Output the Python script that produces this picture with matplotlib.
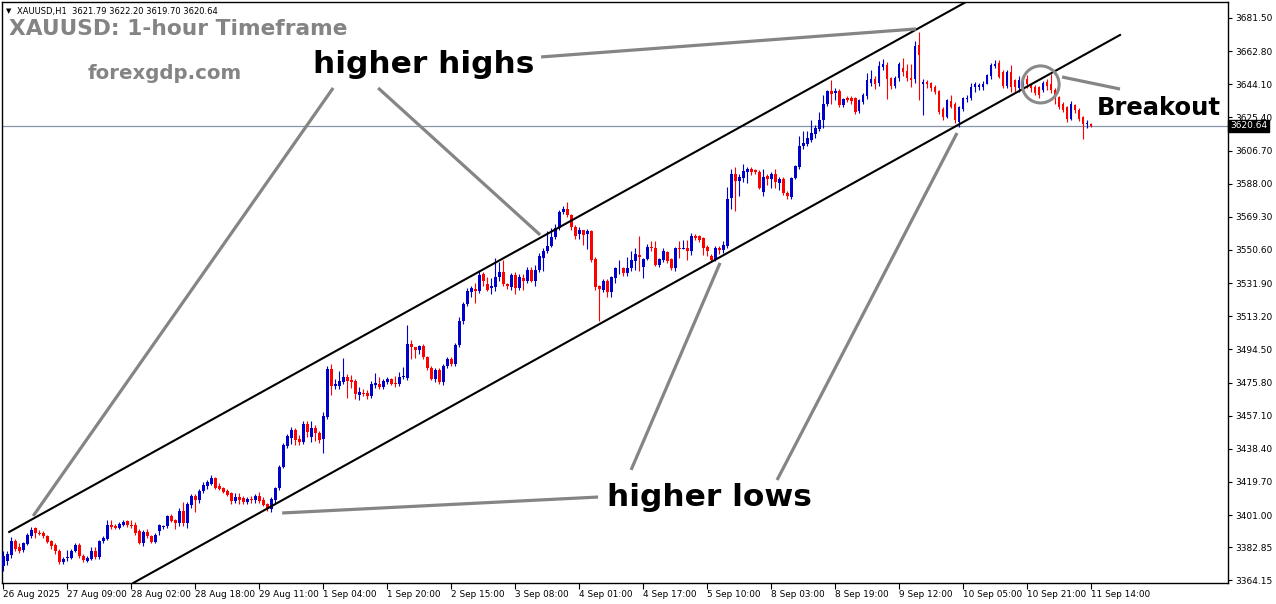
import numpy as np
import matplotlib.pyplot as plt
import matplotlib.transforms as mtransforms
from matplotlib.patches import Ellipse

# XAUUSD H1 candles (one bar per hour)
opens = [
    3372.1, 3374.9, 3378.3, 3386.2, 3382.8, 3381.5, 3384.7, 3389.1, 3393.8, 3391.0,
    3390.9, 3389.0, 3386.2, 3384.4, 3381.0, 3374.5, 3376.8, 3376.8, 3380.6, 3384.4,
    3378.1, 3375.3, 3376.4, 3381.0, 3377.2, 3386.2, 3387.7, 3395.3, 3394.7, 3393.8,
    3395.7, 3397.9, 3395.7, 3395.7, 3392.2, 3385.3, 3391.5, 3389.0, 3386.0, 3391.8,
    3394.1, 3394.6, 3400.3, 3398.4, 3396.5, 3403.5, 3396.5, 3406.5, 3411.6, 3409.7,
    3414.5, 3417.3, 3418.8, 3422.0, 3417.7, 3416.3, 3414.5, 3413.5, 3408.8, 3411.1,
    3410.7, 3408.4, 3409.7, 3409.4, 3411.6, 3409.7, 3407.3, 3404.7, 3409.7, 3416.3,
    3428.2, 3440.0, 3444.7, 3448.8, 3443.7, 3442.4, 3452.2, 3445.0, 3450.3, 3447.5,
    3443.7, 3456.3, 3483.3, 3473.9, 3473.9, 3476.1, 3479.0, 3477.3, 3476.7, 3468.8,
    3470.1, 3470.1, 3468.2, 3474.5, 3475.2, 3473.3, 3476.3, 3477.6, 3475.8, 3475.2,
    3479.0, 3478.6, 3497.8, 3495.6, 3494.1, 3496.5, 3490.0, 3484.0, 3478.0, 3483.0,
    3476.0, 3485.0, 3489.0, 3486.0, 3497.0, 3510.6, 3520.1, 3527.0, 3528.6, 3527.6,
    3537.1, 3531.4, 3529.1, 3529.5, 3535.1, 3538.4, 3531.4, 3529.5, 3536.7, 3528.9,
    3534.8, 3532.9, 3539.5, 3533.3, 3539.5, 3546.3, 3549.9, 3553.1, 3557.8, 3563.0,
    3572.0, 3573.8, 3570.1, 3563.5, 3559.7, 3561.6, 3559.7, 3561.2, 3545.5, 3530.4,
    3528.0, 3533.3, 3526.7, 3534.8, 3540.2, 3540.4, 3537.6, 3540.4, 3544.2, 3548.0,
    3541.2, 3545.5, 3552.5, 3551.8, 3542.3, 3545.2, 3549.3, 3545.5, 3540.4, 3551.8,
    3551.4, 3551.8, 3549.9, 3558.2, 3558.2, 3557.4, 3552.1, 3547.4, 3545.2, 3551.7,
    3550.8, 3552.7, 3580.1, 3593.6, 3589.5, 3591.2, 3594.5, 3596.4, 3595.5, 3594.5,
    3583.2, 3592.3, 3590.4, 3593.6, 3588.5, 3590.4, 3582.9, 3580.4, 3591.4, 3597.4,
    3609.1, 3610.6, 3612.9, 3616.3, 3619.1, 3623.8, 3632.8, 3640.2, 3638.9, 3640.4,
    3632.3, 3636.6, 3636.6, 3636.1, 3629.1, 3634.2, 3637.4, 3644.9, 3646.8, 3644.9,
    3653.9, 3654.9, 3647.4, 3643.2, 3647.9, 3653.4, 3651.7, 3647.4, 3646.8, 3666.2,
    3644.5, 3645.5, 3644.9, 3642.7, 3640.4, 3630.4, 3625.7, 3634.7, 3633.2, 3622.9,
    3630.4, 3635.5, 3636.1, 3642.3, 3642.7, 3642.3, 3644.5, 3648.5, 3654.5, 3655.9,
    3651.1, 3643.0, 3651.1, 3646.4, 3641.7, 3641.7, 3646.8, 3644.5, 3642.7, 3642.3,
    3641.1, 3645.1, 3644.5, 3641.1, 3637.0, 3633.2, 3631.3, 3624.7, 3632.3, 3629.8,
    3625.7, 3621.5, 3621.79,
]
highs = [
    3380.6, 3381.0, 3388.5, 3387.5, 3385.0, 3386.0, 3391.0, 3394.5, 3394.5, 3392.5,
    3392.0, 3390.0, 3387.0, 3385.0, 3382.0, 3377.5, 3381.5, 3382.0, 3385.0, 3385.0,
    3379.0, 3378.0, 3383.0, 3383.0, 3387.0, 3389.0, 3398.5, 3398.0, 3396.0, 3397.0,
    3398.5, 3398.5, 3398.5, 3397.0, 3393.0, 3392.5, 3393.0, 3390.0, 3391.0, 3396.0,
    3395.6, 3401.0, 3401.5, 3399.0, 3405.0, 3408.4, 3408.5, 3413.0, 3413.0, 3416.0,
    3419.5, 3421.0, 3423.5, 3422.5, 3419.0, 3417.0, 3415.5, 3414.0, 3413.5, 3413.5,
    3412.0, 3411.0, 3412.0, 3413.0, 3414.0, 3411.0, 3408.0, 3411.0, 3417.0, 3429.5,
    3441.5, 3447.0, 3450.5, 3450.0, 3446.0, 3454.0, 3454.0, 3454.0, 3452.0, 3448.5,
    3459.0, 3485.0, 3486.0, 3478.0, 3482.4, 3489.6, 3480.5, 3480.0, 3478.0, 3473.5,
    3472.0, 3471.5, 3476.7, 3481.3, 3479.0, 3478.0, 3479.0, 3478.5, 3479.5, 3482.0,
    3484.5, 3508.4, 3500.0, 3496.0, 3497.0, 3497.5, 3491.0, 3485.0, 3484.0, 3484.0,
    3486.0, 3490.0, 3490.0, 3498.0, 3513.0, 3521.0, 3529.0, 3530.5, 3532.0, 3539.5,
    3538.0, 3535.5, 3535.0, 3546.0, 3544.0, 3545.0, 3532.0, 3537.5, 3538.0, 3537.0,
    3537.0, 3541.0, 3541.0, 3542.0, 3549.0, 3551.5, 3561.5, 3563.0, 3565.0, 3573.0,
    3575.6, 3577.4, 3571.0, 3564.5, 3563.5, 3562.0, 3562.5, 3562.0, 3546.5, 3531.0,
    3534.0, 3534.0, 3536.0, 3541.0, 3545.0, 3541.0, 3546.5, 3550.0, 3551.5, 3558.2,
    3546.0, 3554.0, 3555.5, 3555.5, 3546.0, 3551.5, 3550.0, 3546.0, 3552.5, 3555.5,
    3556.0, 3556.0, 3560.0, 3559.5, 3559.0, 3558.0, 3553.5, 3548.5, 3553.0, 3553.0,
    3555.5, 3586.4, 3596.5, 3597.5, 3593.7, 3599.2, 3597.5, 3597.5, 3596.5, 3595.5,
    3596.5, 3593.5, 3594.5, 3596.5, 3592.0, 3591.5, 3584.0, 3592.0, 3598.5, 3614.8,
    3617.5, 3617.5, 3623.8, 3621.0, 3628.2, 3638.0, 3641.0, 3646.4, 3641.7, 3641.5,
    3636.5, 3637.5, 3637.5, 3637.0, 3636.0, 3639.0, 3650.2, 3652.1, 3649.0, 3657.4,
    3658.5, 3656.5, 3648.0, 3649.0, 3656.5, 3659.0, 3655.5, 3655.5, 3668.5, 3673.8,
    3647.0, 3646.5, 3645.5, 3643.5, 3641.0, 3631.0, 3636.0, 3638.0, 3634.0, 3632.0,
    3637.0, 3638.0, 3645.0, 3645.5, 3645.0, 3646.0, 3650.0, 3656.0, 3657.5, 3657.8,
    3652.0, 3652.0, 3654.9, 3647.0, 3649.0, 3648.0, 3649.5, 3645.0, 3643.5, 3643.0,
    3646.0, 3647.0, 3650.0, 3642.0, 3637.5, 3634.0, 3632.0, 3634.5, 3633.0, 3630.5,
    3626.0, 3624.0, 3622.2,
]
lows = [
    3369.3, 3373.0, 3377.0, 3381.0, 3379.6, 3380.0, 3384.0, 3388.0, 3388.0, 3389.5,
    3388.0, 3385.0, 3382.0, 3379.0, 3373.5, 3373.5, 3375.0, 3376.0, 3380.0, 3377.0,
    3374.5, 3374.5, 3375.5, 3376.0, 3376.0, 3385.5, 3387.0, 3393.0, 3393.0, 3393.0,
    3395.0, 3394.5, 3394.0, 3390.0, 3384.5, 3383.5, 3388.0, 3385.0, 3385.0, 3390.0,
    3393.0, 3394.0, 3397.0, 3393.0, 3395.0, 3395.0, 3394.0, 3405.0, 3403.0, 3408.0,
    3413.5, 3416.0, 3418.0, 3415.5, 3415.0, 3413.5, 3412.0, 3407.5, 3408.0, 3407.0,
    3407.0, 3407.0, 3408.0, 3408.0, 3408.0, 3406.0, 3403.5, 3403.0, 3408.0, 3415.0,
    3427.5, 3439.0, 3441.0, 3440.4, 3440.4, 3441.0, 3444.8, 3442.5, 3443.0, 3441.5,
    3436.2, 3455.0, 3469.0, 3472.0, 3472.0, 3475.0, 3467.2, 3473.0, 3466.4, 3465.8,
    3468.0, 3466.4, 3467.3, 3473.0, 3472.0, 3472.0, 3475.0, 3474.5, 3473.5, 3474.0,
    3478.0, 3477.5, 3489.0, 3489.5, 3492.0, 3489.0, 3483.0, 3477.0, 3476.0, 3475.0,
    3474.5, 3484.0, 3485.0, 3485.0, 3496.0, 3509.0, 3519.0, 3524.0, 3520.5, 3526.5,
    3530.0, 3527.5, 3525.7, 3527.5, 3533.0, 3530.5, 3528.5, 3528.0, 3526.0, 3528.0,
    3528.0, 3532.0, 3532.5, 3530.0, 3538.0, 3538.5, 3549.0, 3552.0, 3557.0, 3562.0,
    3571.0, 3569.0, 3562.0, 3557.0, 3557.0, 3553.5, 3551.0, 3544.0, 3528.0, 3510.8,
    3527.0, 3524.0, 3523.8, 3532.0, 3537.0, 3536.0, 3536.0, 3539.0, 3539.5, 3539.0,
    3534.5, 3545.0, 3550.0, 3541.5, 3541.0, 3544.0, 3543.5, 3539.5, 3539.0, 3546.0,
    3551.0, 3545.0, 3548.0, 3556.0, 3555.0, 3547.7, 3547.0, 3544.5, 3544.5, 3548.5,
    3549.0, 3551.5, 3573.5, 3572.5, 3581.0, 3589.0, 3588.5, 3593.0, 3593.5, 3585.0,
    3581.0, 3587.0, 3585.5, 3585.5, 3584.5, 3581.5, 3579.5, 3579.5, 3590.5, 3596.0,
    3607.5, 3609.0, 3611.5, 3614.0, 3618.0, 3619.5, 3632.0, 3633.2, 3635.1, 3631.5,
    3631.0, 3634.0, 3633.0, 3627.5, 3628.0, 3633.0, 3636.0, 3643.0, 3641.5, 3643.0,
    3652.0, 3635.5, 3641.5, 3642.0, 3646.0, 3649.0, 3646.0, 3642.5, 3645.0, 3635.1,
    3626.6, 3642.0, 3640.5, 3638.5, 3627.5, 3624.0, 3625.0, 3630.5, 3622.5, 3620.0,
    3629.0, 3634.0, 3635.0, 3639.8, 3641.0, 3641.0, 3644.0, 3647.0, 3653.5, 3647.5,
    3642.0, 3642.0, 3640.0, 3640.0, 3640.0, 3640.5, 3642.0, 3640.0, 3638.0, 3636.5,
    3640.0, 3641.0, 3639.0, 3633.0, 3630.0, 3628.5, 3623.0, 3624.0, 3628.0, 3623.5,
    3613.4, 3619.5, 3619.7,
]
closes = [
    3377.8, 3379.1, 3386.6, 3382.1, 3381.0, 3385.3, 3390.0, 3392.8, 3391.0, 3390.4,
    3389.0, 3385.9, 3383.4, 3380.6, 3374.5, 3376.4, 3377.2, 3381.0, 3384.0, 3377.8,
    3375.5, 3376.8, 3381.0, 3377.2, 3386.2, 3388.1, 3395.3, 3394.2, 3393.8, 3396.0,
    3397.2, 3395.7, 3395.1, 3391.0, 3385.3, 3391.5, 3389.0, 3386.0, 3390.0, 3395.2,
    3395.0, 3400.3, 3397.9, 3396.5, 3403.5, 3396.5, 3407.3, 3411.6, 3409.7, 3414.8,
    3418.2, 3419.7, 3422.0, 3416.3, 3416.0, 3414.1, 3412.6, 3408.8, 3411.1, 3409.7,
    3408.2, 3410.1, 3409.4, 3411.6, 3409.2, 3406.5, 3404.7, 3410.3, 3416.3, 3428.2,
    3440.5, 3445.6, 3448.8, 3443.1, 3442.4, 3452.2, 3448.1, 3450.3, 3447.5, 3443.1,
    3456.9, 3483.3, 3473.9, 3474.8, 3476.7, 3479.0, 3476.7, 3476.1, 3469.2, 3470.7,
    3469.6, 3468.2, 3474.8, 3475.8, 3473.3, 3476.7, 3478.0, 3475.2, 3474.8, 3479.0,
    3479.7, 3497.8, 3495.6, 3494.1, 3496.5, 3490.0, 3484.0, 3478.0, 3483.0, 3476.0,
    3485.0, 3489.0, 3486.0, 3497.0, 3510.6, 3520.1, 3527.6, 3528.9, 3527.6, 3536.7,
    3532.9, 3528.2, 3530.1, 3535.5, 3538.4, 3531.4, 3530.1, 3536.7, 3528.9, 3535.2,
    3532.9, 3539.5, 3533.3, 3539.5, 3547.4, 3550.2, 3553.1, 3557.8, 3563.0, 3571.9,
    3573.8, 3570.1, 3563.5, 3558.2, 3561.6, 3559.3, 3561.2, 3545.2, 3529.9, 3528.6,
    3532.9, 3526.7, 3535.5, 3540.4, 3540.6, 3537.6, 3540.4, 3545.0, 3548.4, 3546.5,
    3545.5, 3552.5, 3551.6, 3542.3, 3545.5, 3549.9, 3544.6, 3540.4, 3551.8, 3551.2,
    3551.8, 3549.9, 3558.2, 3557.4, 3556.3, 3551.7, 3549.9, 3545.2, 3551.7, 3550.8,
    3553.4, 3579.5, 3593.6, 3589.5, 3591.7, 3595.0, 3596.4, 3594.5, 3594.5, 3585.5,
    3591.7, 3590.4, 3593.6, 3588.9, 3590.4, 3582.9, 3581.0, 3591.4, 3597.8, 3609.1,
    3611.0, 3613.8, 3616.6, 3619.5, 3623.8, 3632.8, 3640.2, 3638.5, 3640.2, 3632.3,
    3635.7, 3635.1, 3634.5, 3628.5, 3635.1, 3637.9, 3646.4, 3646.8, 3644.5, 3654.3,
    3655.3, 3646.8, 3643.2, 3647.9, 3655.3, 3651.1, 3647.4, 3646.4, 3665.7, 3660.6,
    3645.5, 3644.5, 3642.1, 3639.8, 3628.5, 3625.7, 3635.1, 3631.3, 3623.8, 3631.0,
    3636.1, 3636.6, 3642.7, 3644.5, 3643.6, 3644.5, 3649.3, 3654.9, 3655.5, 3648.3,
    3643.0, 3651.1, 3642.7, 3642.7, 3646.4, 3646.4, 3644.0, 3641.7, 3639.3, 3637.9,
    3644.9, 3643.2, 3640.8, 3637.4, 3631.3, 3629.8, 3624.7, 3633.2, 3629.5, 3624.7,
    3621.5, 3622.3, 3620.64,
]

time_labels = ['26 Aug 2025', '27 Aug 09:00', '28 Aug 02:00', '28 Aug 18:00', '29 Aug 11:00',
               '1 Sep 04:00', '1 Sep 20:00', '2 Sep 15:00', '3 Sep 08:00', '4 Sep 01:00',
               '4 Sep 17:00', '5 Sep 10:00', '8 Sep 03:00', '8 Sep 19:00', '9 Sep 12:00',
               '10 Sep 05:00', '10 Sep 21:00', '11 Sep 14:00']
label_every = 16
price_ticks = [3681.50, 3662.80, 3644.10, 3625.40, 3606.70, 3588.00, 3569.30, 3550.60, 3531.90,
               3513.20, 3494.50, 3475.80, 3457.10, 3438.40, 3419.70, 3401.00, 3382.85, 3364.15]
last_price = 3620.64
header = 'XAUUSD,H1  3621.79 3622.20 3619.70 3620.64'

# trend channel (bar index, price)
upper_channel = ([1.5, 244.0], [3391.5, 3694.6])
lower_channel = ([32.5, 279.25], [3362.7, 3671.9])

# grey pointer lines (bar index, price)
pointers = [
    ([134.5, 228.25], [3659.5, 3675.3]),
    ([82.5, 7.5], [3642.0, 3400.5]),
    ([93.75, 134.25], [3642.0, 3559.1]),
    ([148.75, 69.75], [3411.2, 3402.2]),
    ([157.0, 179.25], [3426.5, 3543.3]),
    ([193.5, 238.5], [3420.8, 3616.6]),
    ([264.75, 279.25], [3648.2, 3641.4]),
]

fig = plt.figure(figsize=(12.76, 6.04), dpi=100)
ax = fig.add_axes([2 / 1276, 21 / 604, 1226 / 1276, 581 / 604])

o = np.array(opens)
c = np.array(closes)
x = np.arange(len(c))
cols = np.where(c >= o, '#0000CD', '#FF0000')

ax.vlines(x, lows, highs, colors=cols, lw=0.8, zorder=3)
body = np.maximum(np.abs(c - o), 0.45)
ax.bar(x, body, bottom=np.minimum(o, c), width=0.72, color=cols, lw=0, zorder=4)

ax.axhline(last_price, color='#8296a8', lw=0.9, zorder=1)

ax.plot(*upper_channel, color='black', lw=1.5, zorder=5)
ax.plot(*lower_channel, color='black', lw=1.5, zorder=5)

for px, py in pointers:
    ax.plot(px, py, color='#858585', lw=2.3, solid_capstyle='butt', zorder=6)
ax.add_patch(Ellipse((259.4, 3644.0), 9.25, 20.9, fill=False, ec='#8a8a8a', lw=2.2, zorder=6))

ax.text(105.25, 3655.5, 'higher highs', fontsize=22.5, fontweight='bold', ha='center', va='center', zorder=7)
ax.text(176.5, 3411.2, 'higher lows', fontsize=22.5, fontweight='bold', ha='center', va='center', zorder=7)
ax.text(289.0, 3630.7, 'Breakout', fontsize=17.5, fontweight='bold', ha='center', va='center', zorder=7)

ax.text(0.0057, 0.953, 'XAUUSD: 1-hour Timeframe', transform=ax.transAxes, fontsize=15.7,
        fontweight='bold', color='#848484', ha='left', va='center')
ax.text(0.133, 0.877, 'forexgdp.com', transform=ax.transAxes, fontsize=14.2,
        fontweight='bold', color='#848484', ha='center', va='center')
ax.text(0.0035, 0.9845, '\u25BC', transform=ax.transAxes, fontsize=5, ha='left', va='center')
ax.text(0.0125, 0.9845, header, transform=ax.transAxes, fontsize=6, ha='left', va='center')

ax.set_xlim(-0.3, 306.25)
ax.set_ylim(3362.7, 3690.5)

ticks = np.arange(len(time_labels)) * label_every
ax.set_xticks(ticks)
ax.set_xticklabels(time_labels, ha='left')
ax.tick_params(axis='x', direction='out', length=4, width=0.8, labelsize=6.4, pad=1)

ax.yaxis.tick_right()
ax.set_yticks(price_ticks)
ax.set_yticklabels(['%.2f' % p for p in price_ticks])
ax.tick_params(axis='y', direction='out', length=3, width=0.8, labelsize=6.5, pad=2)

trans = mtransforms.blended_transform_factory(ax.transAxes, ax.transData)
ax.text(1.0015, last_price, '%.2f' % last_price, transform=trans, color='white', fontsize=6.5,
        ha='left', va='center', bbox=dict(facecolor='black', edgecolor='black', pad=1.2), zorder=10)

for s in ax.spines.values():
    s.set_linewidth(1)
    s.set_color('black')

fig.savefig('out.png', dpi=100)
